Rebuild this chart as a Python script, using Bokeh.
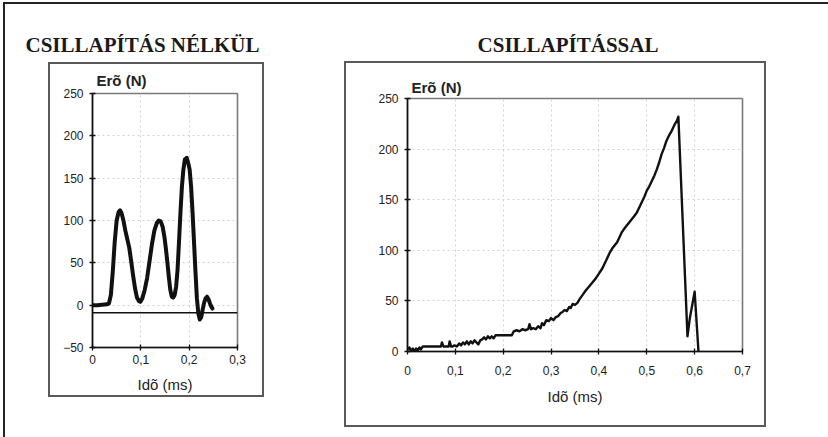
from bokeh.plotting import figure
from bokeh.models import Range1d, FixedTicker, Span, Label, Spacer
from bokeh.layouts import row, column
from bokeh.embed import file_html
from bokeh.resources import INLINE

# ---------------- data ----------------
title_left = "CSILLAPÍTÁS NÉLKÜL"
title_right = "CSILLAPÍTÁSSAL"
y_label = "Erõ (N)"
x_label = "Idõ (ms)"

left_x_ticks = [0, 0.1, 0.2, 0.3]
left_x_tick_labels = ["0", "0,1", "0,2", "0,3"]
left_y_ticks = [-50, 0, 50, 100, 150, 200, 250]
right_x_ticks = [0, 0.1, 0.2, 0.3, 0.4, 0.5, 0.6, 0.7]
right_x_tick_labels = ["0", "0,1", "0,2", "0,3", "0,4", "0,5", "0,6", "0,7"]
right_y_ticks = [0, 50, 100, 150, 200, 250]

left_baseline = -9

left_time = [0, 0.01, 0.02, 0.03, 0.034, 0.038, 0.042, 0.046, 0.050, 0.054,
             0.057, 0.060, 0.064, 0.068, 0.072, 0.076, 0.080, 0.084, 0.088, 0.092,
             0.096, 0.099, 0.103, 0.108, 0.113, 0.118, 0.123, 0.128, 0.133, 0.137,
             0.141, 0.145, 0.149, 0.152, 0.155, 0.158, 0.161, 0.164, 0.167, 0.170,
             0.173, 0.176, 0.179, 0.182, 0.185, 0.188, 0.191, 0.195, 0.198, 0.201,
             0.204, 0.207, 0.210, 0.213, 0.216, 0.219, 0.222, 0.225, 0.228, 0.231,
             0.234, 0.237, 0.240, 0.243, 0.246, 0.248]
left_force = [0, 0, 0.5, 1, 2, 12, 40, 75, 100, 110,
              112, 109, 100, 88, 78, 68, 52, 35, 20, 9,
              5, 4, 8, 18, 32, 52, 72, 88, 97, 100,
              99, 93, 80, 66, 50, 33, 18, 10, 9, 12,
              22, 42, 75, 110, 140, 160, 172, 174, 168, 160,
              140, 110, 75, 40, 8, -10, -17, -14, -5, 3,
              8, 10, 7, 2, -2, -4]

right_time = [0, 0.004, 0.007, 0.011, 0.014, 0.018, 0.021, 0.025, 0.028, 0.032,
              0.035, 0.07, 0.072, 0.075, 0.078, 0.086, 0.088, 0.091, 0.094, 0.098,
              0.103, 0.108, 0.112, 0.116, 0.12, 0.124, 0.128, 0.132, 0.136, 0.14,
              0.144, 0.148, 0.152, 0.156, 0.16, 0.164, 0.168, 0.172, 0.176, 0.18,
              0.184, 0.189, 0.218, 0.222, 0.228, 0.234, 0.24, 0.246, 0.252, 0.255,
              0.258, 0.263, 0.268, 0.273, 0.278, 0.281, 0.285, 0.29, 0.295, 0.3,
              0.305, 0.31, 0.315, 0.32, 0.324, 0.328, 0.333, 0.338, 0.341, 0.345,
              0.35, 0.355, 0.36, 0.366, 0.372, 0.379, 0.386, 0.393, 0.4, 0.407,
              0.412, 0.417, 0.423, 0.428, 0.433, 0.438, 0.443, 0.448, 0.454, 0.459,
              0.464, 0.469, 0.474, 0.479, 0.485, 0.49, 0.495, 0.5, 0.505, 0.51,
              0.516, 0.521, 0.526, 0.531, 0.536, 0.541, 0.546, 0.552, 0.556, 0.559,
              0.563, 0.566, 0.585, 0.590, 0.600, 0.608]
right_force = [2, 4, 1, 3, 0, 3, 1, 4, 2, 5,
               5, 5, 9, 5, 5, 5, 10, 5, 5, 6,
               5, 8, 6, 9, 7, 10, 7, 10, 8, 11,
               9, 7, 11, 12, 14, 12, 15, 13, 15, 13,
               16, 16, 16, 20, 21, 20, 22, 21, 22, 27,
               22, 23, 22, 25, 23, 28, 26, 31, 30, 33,
               31, 34, 35, 38, 39, 41, 40, 44, 43, 47,
               46, 48, 52, 56, 60, 64, 68, 72, 77, 82,
               87, 92, 98, 102, 105, 108, 113, 118, 122, 125,
               128, 131, 134, 137, 143, 148, 153, 159, 163, 168,
               174, 180, 187, 195, 201, 208, 213, 218, 222, 225,
               228, 232, 15, 33, 59, 0]

# ---------------- styling helpers ----------------
FONT = "Liberation Sans"
INK = "#111111"
BOX = "#5a5a5a"


def style_chart(p, xticks, xlabels, yticks, x_label_standoff, x_axis_label_standoff, title_standoff):
    p.xaxis.ticker = FixedTicker(ticks=xticks)
    p.yaxis.ticker = FixedTicker(ticks=yticks)
    p.xaxis.major_label_overrides = dict(zip(xticks, xlabels))
    for ax in (p.xaxis[0], p.yaxis[0]):
        ax.axis_line_color = INK
        ax.axis_line_width = 1.6
        ax.major_tick_line_color = INK
        ax.major_tick_line_width = 1.3
        ax.major_tick_in = 3
        ax.major_tick_out = 3
        ax.minor_tick_line_color = None
        ax.major_label_text_font = FONT
        ax.major_label_text_font_size = "12px"
        ax.major_label_text_color = "#222222"
    p.yaxis.major_label_standoff = 6
    p.xaxis.major_label_standoff = x_label_standoff
    p.xaxis.axis_label = x_label
    p.xaxis.axis_label_text_font = FONT
    p.xaxis.axis_label_text_font_size = "15px"
    p.xaxis.axis_label_text_font_style = "normal"
    p.xaxis.axis_label_text_color = "#222222"
    p.xaxis.axis_label_standoff = x_axis_label_standoff
    for g in (p.xgrid[0], p.ygrid[0]):
        g.grid_line_color = "#d2d2d2"
        g.grid_line_dash = "2 3"
        g.grid_line_width = 1
    p.outline_line_color = "#7a7a7a"
    p.outline_line_width = 1.6
    # y-axis caption, Excel style: horizontal, just above the top-left of the plot area
    p.title.text = y_label
    p.title.align = "left"
    p.title.offset = 4
    p.title.standoff = title_standoff
    p.title.text_font = FONT
    p.title.text_font_size = "15px"
    p.title.text_font_style = "bold"
    p.title.text_color = "#222222"
    p.background_fill_color = "white"
    p.border_fill_color = "white"


def boxed(p, w, h, t=2):
    """Surround a figure with a thin frame built from coloured spacers."""
    st = {"background-color": BOX}
    return column(Spacer(width=w + 2 * t, height=t, styles=st),
                  row(Spacer(width=t, height=h, styles=st), p, Spacer(width=t, height=h, styles=st)),
                  Spacer(width=w + 2 * t, height=t, styles=st))


# ---------------- left chart ----------------
pL = figure(width=212, height=331, x_range=Range1d(0, 0.3), y_range=Range1d(-50, 250),
            output_backend="svg", toolbar_location=None,
            min_border_left=42, min_border_right=25, min_border_top=29, min_border_bottom=48)
pL.line(left_time, left_force, line_width=4, line_color=INK, line_join="round", line_cap="round")
pL.add_layout(Span(location=left_baseline, dimension="width", line_color=INK, line_width=1.6))
style_chart(pL, left_x_ticks, left_x_tick_labels, left_y_ticks, 4, 9, 10)

# ---------------- right chart ----------------
pR = figure(width=418, height=362, x_range=Range1d(0, 0.7), y_range=Range1d(0, 250),
            output_backend="svg", toolbar_location=None,
            min_border_left=61, min_border_right=22, min_border_top=35, min_border_bottom=74)
pR.line(right_time, right_force, line_width=2.4, line_color=INK, line_join="round")
style_chart(pR, right_x_ticks, right_x_tick_labels, right_y_ticks, 11, 10, 6)


# ---------------- titles ----------------
def title_fig(text, width):
    t = figure(width=width, height=57, x_range=Range1d(0, 1), y_range=Range1d(0, 1),
               output_backend="svg", toolbar_location=None, min_border=0)
    t.xaxis.visible = False
    t.yaxis.visible = False
    t.xgrid.visible = False
    t.ygrid.visible = False
    t.outline_line_color = None
    t.add_layout(Label(x=0.5, y=0.29, text=text, text_align="center", text_baseline="middle",
                       text_font="Liberation Serif", text_font_size="21px",
                       text_font_style="bold", text_color="#1a1a1a"))
    return t


tL = title_fig(title_left, 274)
tR = title_fig(title_right, 521)

frame_style = {"background-color": "#222222"}
top_line = Spacer(width=825, height=2, styles=frame_style)
left_line = Spacer(width=2, height=433, styles=frame_style)

title_row = row(tL, Spacer(width=28, height=57), tR)
chart_row = row(Spacer(width=43, height=10),
                column(Spacer(width=216, height=1), boxed(pL, 212, 331)),
                Spacer(width=80, height=10),
                boxed(pR, 418, 362))
content = column(title_row, chart_row)
root = column(top_line, row(left_line, content),
              styles={"position": "absolute", "left": "3px", "top": "2px"})

open("out.html", "w").write(file_html(root, INLINE))
